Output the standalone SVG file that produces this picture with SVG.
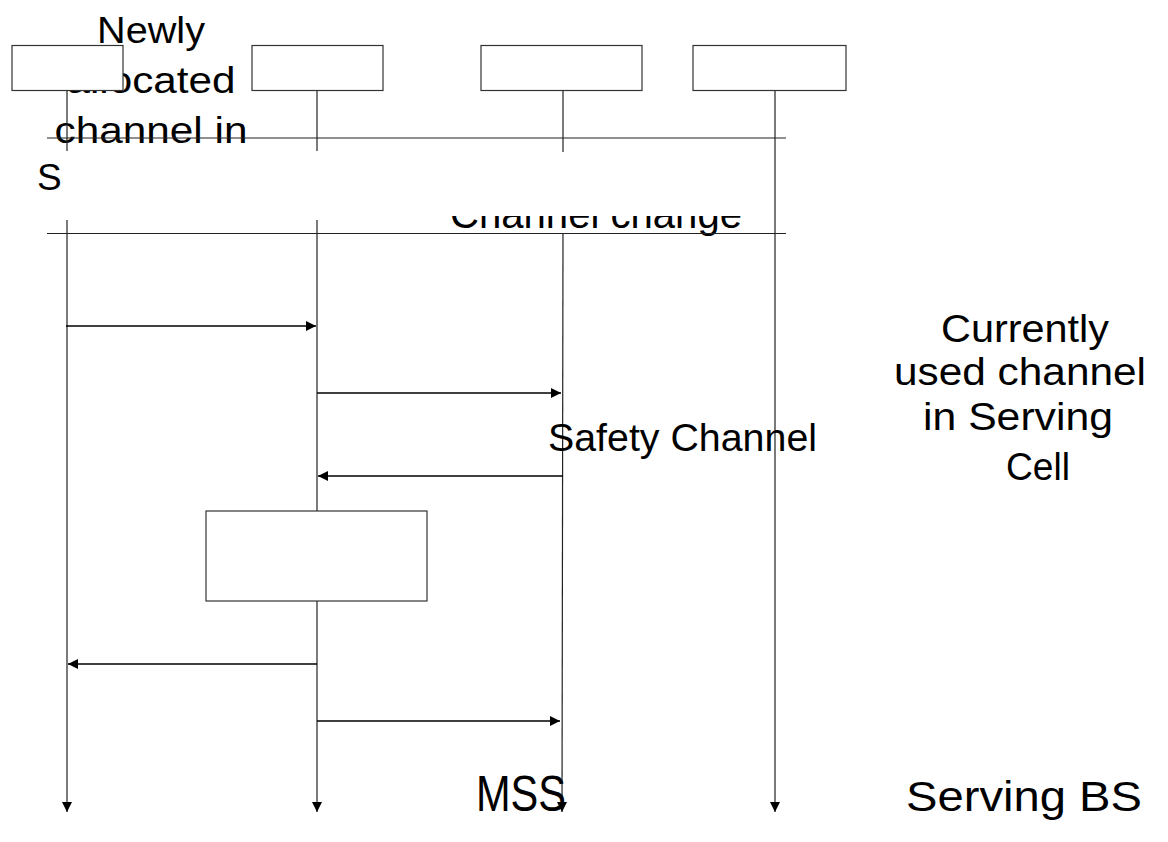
<svg xmlns="http://www.w3.org/2000/svg" width="1168" height="842" viewBox="0 0 1168 842">
  <style>
    .box { fill: #ffffff; stroke: #333333; stroke-width: 1.2; }
    .life { stroke: #222222; stroke-width: 1.2; fill: none; }
    .msg { stroke: #000000; stroke-width: 1.4; fill: none; }
    .sep { stroke: #222222; stroke-width: 1.2; }
    .t { font-family: "Liberation Sans", Arial, sans-serif; fill: #000000; }
  </style>
  <defs>
    <marker id="ah" markerUnits="userSpaceOnUse" markerWidth="11" markerHeight="10" refX="10" refY="5" orient="auto">
      <path d="M0,0 L10,5 L0,10 z" fill="#000000"/>
    </marker>
    <clipPath id="clipCC">
      <rect x="0" y="216" width="1168" height="40"/>
    </clipPath>
  </defs>
  <rect x="0" y="0" width="1168" height="842" fill="#ffffff"/>

  <!-- texts under the heads -->
  <g id="label-newly" class="t" font-size="36">
    <text x="151" y="43" text-anchor="middle" textLength="108" lengthAdjust="spacingAndGlyphs">Newly</text>
    <text x="151" y="93" text-anchor="middle" textLength="169" lengthAdjust="spacingAndGlyphs">allocated</text>
    <text x="151" y="143" text-anchor="middle" textLength="193" lengthAdjust="spacingAndGlyphs">channel in</text>
    <text x="37" y="190" font-size="37">S</text>
  </g>
  <g id="label-channel-change" class="t" clip-path="url(#clipCC)">
    <text x="596" y="228" text-anchor="middle" font-size="40" textLength="292" lengthAdjust="spacingAndGlyphs">Channel change</text>
  </g>

  <!-- lifeline heads -->
  <g id="head1"><rect class="box" x="12" y="45.5" width="111" height="45"/></g>
  <g id="head2"><rect class="box" x="252" y="45.5" width="131" height="45"/></g>
  <g id="head3"><rect class="box" x="481" y="45.5" width="161" height="45"/></g>
  <g id="head4"><rect class="box" x="693" y="45.5" width="153" height="45"/></g>

  <g id="connectors">
    <!-- lifelines -->
    <line class="life" x1="67" y1="90.5" x2="67" y2="151"/>
    <line class="life" x1="67" y1="220" x2="67" y2="812" marker-end="url(#ah)"/>
    <line class="life" x1="317" y1="90.5" x2="317" y2="151"/>
    <line class="life" x1="317" y1="220" x2="317" y2="812" marker-end="url(#ah)"/>
    <line class="life" x1="563" y1="90.5" x2="563" y2="152"/>
    <line class="life" x1="563" y1="233" x2="562" y2="812" marker-end="url(#ah)"/>
    <line class="life" x1="775" y1="90.5" x2="775" y2="812" marker-end="url(#ah)"/>
    <!-- separator lines -->
    <line class="sep" x1="47" y1="138" x2="786" y2="138"/>
    <line class="sep" x1="47" y1="233.5" x2="786" y2="233.5"/>
    <!-- messages -->
    <line class="msg" x1="66" y1="326" x2="316" y2="326" marker-end="url(#ah)"/>
    <line class="msg" x1="317" y1="393" x2="561" y2="393" marker-end="url(#ah)"/>
    <line class="msg" x1="563" y1="476" x2="318" y2="476" marker-end="url(#ah)"/>
    <line class="msg" x1="317" y1="664" x2="68" y2="664" marker-end="url(#ah)"/>
    <line class="msg" x1="317" y1="721" x2="560" y2="721" marker-end="url(#ah)"/>
  </g>

  <!-- process box on lifeline 2 -->
  <g id="process-box"><rect class="box" x="206" y="511" width="221" height="90"/></g>

  <g id="label-safety" class="t">
    <text x="548" y="451" font-size="38" textLength="269" lengthAdjust="spacingAndGlyphs">Safety Channel</text>
  </g>
  <g id="label-current" class="t" font-size="38" text-anchor="middle">
    <text x="1025" y="342" textLength="168" lengthAdjust="spacingAndGlyphs">Currently</text>
    <text x="1020" y="385" textLength="252" lengthAdjust="spacingAndGlyphs">used channel</text>
    <text x="1018" y="430" textLength="190" lengthAdjust="spacingAndGlyphs">in Serving</text>
    <text x="1038" y="480" textLength="64" lengthAdjust="spacingAndGlyphs">Cell</text>
  </g>
  <g id="label-mss" class="t">
    <text x="476" y="811" font-size="50" textLength="90" lengthAdjust="spacingAndGlyphs">MSS</text>
  </g>
  <g id="label-serving-bs" class="t">
    <text x="906" y="811" font-size="42" textLength="236" lengthAdjust="spacingAndGlyphs">Serving BS</text>
  </g>
</svg>
